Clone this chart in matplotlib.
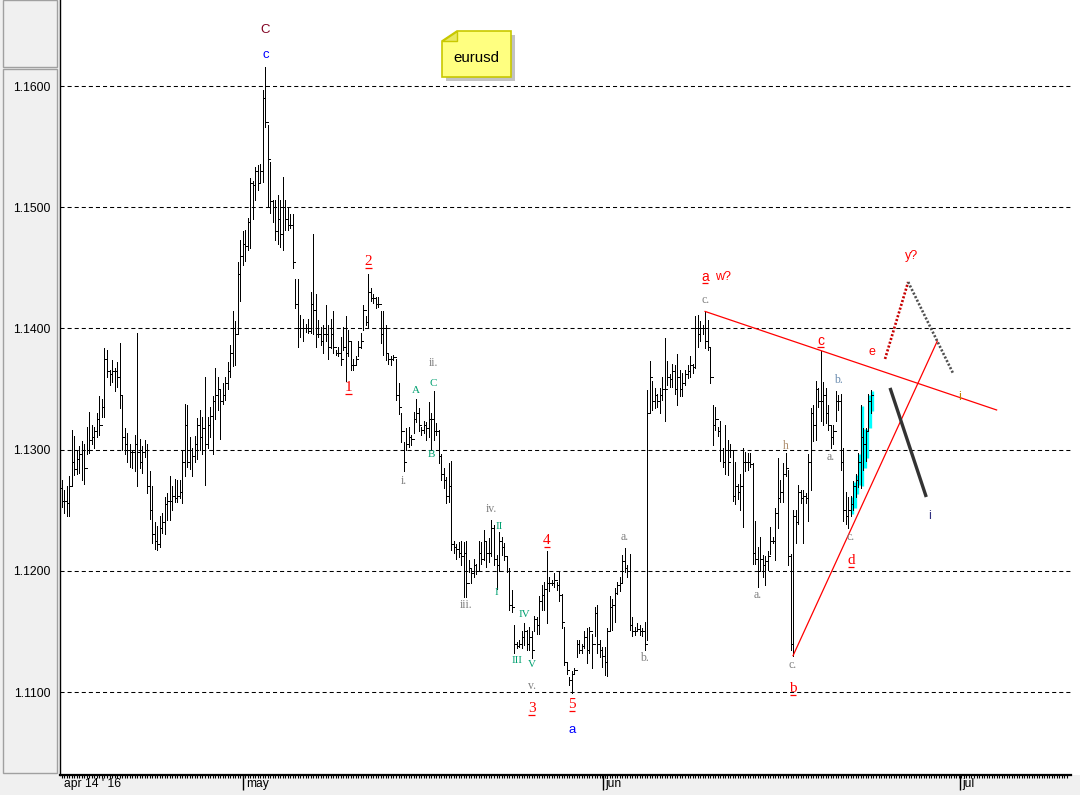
import matplotlib
matplotlib.use("Agg")
import matplotlib.pyplot as plt
import matplotlib.transforms as mtrans
from matplotlib.patches import Rectangle, Polygon
import numpy as np

BASE = 1.1000
PIP = 0.0001

# ---- 4h OHLC bars, EURUSD, values in pips above 1.1000 (open = previous close) ----
high_pips = [
    # apr 14 - apr 29
    275,267,270,278,316,311,300,303,307,305, 319,331,320,319,330,344,342,384,382,366,
    374,367,372,388,344,318,314,305,300,312, 396,309,303,308,305,282,270,240,237,245,
    248,261,264,278,270,276,275,275,300,338, 337,310,301,311,326,333,327,360,327,335,
    344,367,360,349,355,360,372,386,414,406,
    # peak
    455,473,480,481,491,524,522,533,535,536, 597,616,568,537,506,506,510,506,525,506, 500,
    # waves 1 / 2
    494,494,441,441,411,408,404,408,430,478, 428,407,401,403,419,403,408,414,382,385,
    393,401,410,399,390,375,377,390,396,419, 410,445,433,428,426,426,414,414,403,380,
    377,378,375,355,330,306,
    # wave 3
    318,319,312,331,342,334,319,324,323,339, 330,348,322,316,296,285,277,289,291,225,
    222,224,225,224,225,209,202,210,206,225, 224,234,224,227,242,238,213,
    # waves 3 end / 4 / 5 / jun start
    232,228,223,212,202,184,155,141,143,150, 157,151,154,150,163,162,179,188,191,216,
    195,192,198,191,199,181,154,124,112,117, 120,143,143,140,150,153,154,148,170,172,
    143,137,137,153,179,177,186,191,195,213, 219,205,214,162,154,157,155,153,158,349,
    # june
    373,357,351,346,351,360,392,373,362,371, 370,379,366,363,366,370,377,371,410,411,
    406,403,414,407,384,337,335,319,324,301, 320,308,305,300,290,272,280,301,298,297,
    297,289,241,220,228,213,212,216,236,228, 252,293,275,289,297,283,214,250,250,271,
    267,267,264,296,334,337,357,351,381,356, 351,337,320,320,348,345,346,301,265,261,
    262,274,280,297,337,318,318,346,349,
]
low_pips = [
    253,248,245,245,271,279,280,281,275,272, 296,297,305,301,310,312,327,327,360,353,
    356,348,352,334,300,296,290,286,285,282, 270,285,281,294,264,243,223,218,217,220,
    231,230,242,242,250,257,257,260,256,278, 286,284,278,290,292,300,296,271,301,310,
    296,325,333,309,338,341,350,360,369,370,
    396,423,452,456,465,466,490,506,514,521, 521,566,500,495,488,473,470,467,465,481, 481,
    483,450,417,385,393,390,397,396,396,395, 385,393,386,380,390,375,384,380,378,377,
    370,382,357,377,366,366,371,377,384,399, 403,401,423,421,417,418,388,378,374,371,
    370,374,341,329,306,282,
    300,302,304,314,323,315,312,314,308,310, 300,308,312,289,275,268,256,257,217,215,
    210,211,205,178,178,199,190,195,197,201, 206,209,203,207,212,205,185,
    200,213,209,199,168,166,132,136,137,136, 139,135,135,128,150,148,148,168,168,157,
    183,188,187,184,175,153,122,115,106,99, 115,129,132,132,136,124,132,120,146,132,
    129,121,114,113,151,151,158,181,183,190, 199,195,151,146,147,150,147,146,135,143,
    330,333,334,335,330,341,324,353,352,352, 346,337,344,344,353,359,360,363,367,385,
    390,395,384,382,355,304,316,311,291,286, 280,279,294,258,255,259,250,236,282,283,
    286,206,206,187,201,195,188,201,214,223, 209,235,257,257,278,205,135,130,223,239,
    256,223,256,241,267,307,308,335,324,320, 322,316,301,305,324,333,283,241,239,235,
    245,250,261,269,268,283,291,316,330,
]
close_pips = [
    258,258,256,270,290,284,292,296,300,285, 300,308,310,315,325,320,335,375,365,362,
    365,365,360,345,310,305,300,298,298,305, 298,290,298,300,270,250,230,225,222,235,
    240,255,258,258,262,260,262,265,290,320, 290,300,295,305,320,310,318,305,320,328,
    340,345,350,340,345,355,365,380,400,395,
    445,460,470,468,488,520,518,530,520,530, 590,570,540,505,500,480,490,478,500,490, 485,
    485,455,420,400,400,400,400,398,420,415, 395,395,390,395,395,385,395,385,380,380,
    375,385,380,390,370,370,375,385,390,415, 405,430,425,425,420,420,395,400,380,375,
    375,376,345,335,315,290,
    305,310,309,325,330,320,316,320,318,325, 325,315,315,295,280,275,262,270,222,220,
    218,215,212,215,190,202,198,205,200,215, 210,225,215,215,235,210,205,
    225,220,212,200,172,170,140,138,140,145, 150,140,145,135,160,155,175,180,185,190,
    190,190,192,188,180,158,125,118,110,115, 118,140,135,138,145,135,150,140,165,140,
    135,130,125,150,170,172,182,188,190,208, 202,200,155,150,150,152,150,150,140,330,
    360,340,345,340,345,350,350,360,358,365, 350,360,350,355,362,365,370,368,400,395,
    400,400,390,385,360,320,325,315,300,290, 300,290,300,262,270,265,270,290,290,290,
    288,215,210,200,210,205,208,212,225,225, 248,260,265,280,285,212,140,245,240,265,
    260,262,260,290,330,320,350,340,340,345, 330,320,310,315,340,340,290,250,245,250,
    255,270,275,290,310,305,315,340,345,
]
first_open_pips = 268
highlight_from = 314          # bars highlighted in cyan (last leg)

price_levels = [1.1100, 1.1200, 1.1300, 1.1400, 1.1500, 1.1600]
month_labels = ["apr 14 ' 16", "may", "jun", "jul"]
month_pos = [0, 72.3, 215.3, 357.6]

hi = BASE + np.array(high_pips) * PIP
lo = BASE + np.array(low_pips) * PIP
cl = BASE + np.array(close_pips) * PIP
op = np.concatenate([[BASE + first_open_pips * PIP], cl[:-1]])
n = len(hi)
idx = np.arange(n)
L = n - 1

W, H = 1080, 795
fig = plt.figure(figsize=(W / 100, H / 100), dpi=100)
fig.patch.set_facecolor('white')

def fx(px):
    return px / W

def fy(py):
    return 1 - py / H

# grey side panel and bottom strip
fig.add_artist(Rectangle((0, 0), fx(60), 1, transform=fig.transFigure,
                         facecolor='#f0f0f0', edgecolor='none', zorder=-2))
fig.add_artist(Rectangle((0, 0), 1, 20 / H, transform=fig.transFigure,
                         facecolor='#f0f0f0', edgecolor='none', zorder=-2))
fig.add_artist(Rectangle((fx(2.5), fy(67)), fx(54.5), 67 / H, transform=fig.transFigure,
                         facecolor='none', edgecolor='#a0a0a0', lw=1, zorder=-1))
fig.add_artist(Rectangle((fx(2.5), fy(773)), fx(54.5), (773 - 69) / H, transform=fig.transFigure,
                         facecolor='none', edgecolor='#a0a0a0', lw=1, zorder=-1))

ax = fig.add_axes([fx(60), 20 / H, fx(1011), 775 / H])
ax.set_facecolor('white')
ax.set_xlim(-0.7, L + 79.6)
ax.set_ylim(1.103152, 1.167096)

for s in ['top', 'right']:
    ax.spines[s].set_visible(False)
ax.spines['left'].set_linewidth(1.0)
ax.spines['bottom'].set_linewidth(1.6)

for lvl in price_levels:
    ax.axhline(lvl, color='black', lw=0.75, ls=(0, (3.9, 2.9)), zorder=0.5)

ax.set_yticks(price_levels)
ax.set_yticklabels([f"{v:.4f}" for v in price_levels], fontsize=8.7,
                   family='Liberation Sans')
ax.tick_params(axis='y', length=0, pad=7)

ax.set_xticks(month_pos[1:])
ax.set_xticklabels([])
ax.tick_params(axis='x', which='major', length=11, width=1.0, direction='out')
ax.set_xticks(np.arange(0, int(L + 79)), minor=True)
ax.tick_params(axis='x', which='minor', length=2.3, width=0.8, direction='out')

tb = mtrans.blended_transform_factory(ax.transData, ax.transAxes)
for lab, p in zip(month_labels, month_pos):
    ax.text(p + 0.9, -0.0115, lab, transform=tb, ha='left', va='center',
            fontsize=8.7, family='Liberation Sans', color='black')

# cyan highlight of last leg
hl = idx >= highlight_from
ax.vlines(idx[hl] + 0.45, lo[hl] + 0.0002, hi[hl] - 0.0001, colors='#00ffff', lw=2.4, zorder=1.5)

# OHLC bars
ax.vlines(idx, lo, hi, colors='black', lw=0.72, antialiased=False, zorder=2)
ax.hlines(op, idx - 0.8, idx, colors='black', lw=0.72, antialiased=False, zorder=2)
ax.hlines(cl, idx, idx + 0.8, colors='black', lw=0.72, antialiased=False, zorder=2)

# trend / projection lines
i_top = int(np.argmax(hi[240:280])) + 240
i_blow = int(np.argmin(lo[280:300])) + 280
ax.plot([i_top, L + 50], [hi[i_top], 1.13327], color='red', lw=0.9, zorder=3)
ax.plot([i_blow, L + 26.4], [lo[i_blow], 1.13896], color='red', lw=0.9, zorder=3)
ax.plot([L + 5.6, L + 14.8], [1.13748, 1.14383], color='#c80000', lw=1.9,
        ls=(0, (0.8, 0.7)), zorder=3)
ax.plot([L + 14.8, L + 32.8], [1.14383, 1.13624], color='#505050', lw=1.9,
        ls=(0, (0.8, 0.7)), zorder=3)
ax.plot([L + 7.6, L + 22], [1.13509, 1.12609], color='#333333', lw=2.4,
        solid_capstyle='butt', zorder=3)

GRAY = '#808080'
GREEN = '#00a070'
RED = '#ff0000'
SERIF = 'Liberation Serif'
SANS = 'Liberation Sans'

# (text, bar index, price, colour, family, size, underlined)
labels = [
    ("C", 81, 1.16460, '#800020', SANS, 9.5, False),
    ("c", 81, 1.16256, '#0000ff', SANS, 9.5, False),
    ("2", 122, 1.14548, RED, SERIF, 11, True),
    ("1", 114, 1.13509, RED, SERIF, 11, True),
    ("ii.", 148, 1.13715, GRAY, SERIF, 8.5, False),
    ("A", 141, 1.13484, GREEN, SERIF, 8, False),
    ("C", 148, 1.13542, GREEN, SERIF, 8, False),
    ("B", 147, 1.12956, GREEN, SERIF, 8, False),
    ("i.", 136, 1.12741, GRAY, SERIF, 8.5, False),
    ("iv.", 171, 1.12510, GRAY, SERIF, 8.5, False),
    ("II", 174, 1.12362, GREEN, SERIF, 8, False),
    ("I", 173, 1.11817, GREEN, SERIF, 8, False),
    ("iii.", 161, 1.11718, GRAY, SERIF, 8.5, False),
    ("4", 193, 1.12246, RED, SERIF, 11, True),
    ("IV", 184, 1.11636, GREEN, SERIF, 8, False),
    ("III", 181, 1.11264, GREEN, SERIF, 8, False),
    ("V", 187, 1.11231, GREEN, SERIF, 8, False),
    ("v.", 187, 1.11050, GRAY, SERIF, 8.5, False),
    ("3", 187, 1.10860, RED, SERIF, 11, True),
    ("5", 203, 1.10893, RED, SERIF, 11, True),
    ("a", 203, 1.10687, '#0000ff', SANS, 9.5, False),
    ("a.", 224, 1.12279, GRAY, SERIF, 8.5, False),
    ("b.", 232, 1.11281, GRAY, SERIF, 8.5, False),
    ("a", 256, 1.14424, RED, SANS, 10, True),
    ("w?", 263, 1.14424, RED, SANS, 9, False),
    ("c.", 256, 1.14235, GRAY, SERIF, 8.5, False),
    ("c", 302, 1.13896, RED, SANS, 10, True),
    ("b.", 309, 1.13574, '#6a8cb0', SERIF, 8.5, False),
    ("h", 288, 1.13030, '#b09070', SERIF, 8.5, False),
    ("a.", 306, 1.12940, GRAY, SERIF, 8.5, False),
    ("a.", 277, 1.11800, GRAY, SERIF, 8.5, False),
    ("c.", 314, 1.12279, GRAY, SERIF, 8.5, False),
    ("d", 314, 1.12081, RED, SERIF, 11, True),
    ("c.", 291, 1.11223, GRAY, SERIF, 8.5, False),
    ("b", 291, 1.11025, RED, SERIF, 11, True),
    ("e", L + 0.4, 1.13806, RED, SANS, 9, False),
    ("y?", L + 16, 1.14598, RED, SANS, 9, False),
    ("i", L + 35.2, 1.13434, '#c08000', SANS, 9, False),
    ("i", L + 23.2, 1.12453, '#303080', SANS, 9, False),
]
for t, x, y, c, fam, fs, ul in labels:
    ax.text(x, y, t, color=c, family=fam, fontsize=fs, ha='center', va='center', zorder=4)
    if ul:
        off = mtrans.offset_copy(ax.transData, fig=fig, x=0, y=-0.42 * fs, units='points')
        ax.plot([x - 1.3, x + 1.3], [y, y], transform=off, color=c, lw=0.9,
                solid_capstyle='butt', zorder=4)

# yellow note "eurusd"
x0, x1, y0, y1, fold = 442, 511, 31, 77, 15
shadow = Polygon([(fx(x0 + fold + 4), fy(y0 + 4)), (fx(x1 + 4), fy(y0 + 4)),
                  (fx(x1 + 4), fy(y1 + 4)), (fx(x0 + 4), fy(y1 + 4)),
                  (fx(x0 + 4), fy(y0 + 10 + 4))], closed=True,
                 transform=fig.transFigure, facecolor='#9a9a9a', edgecolor='none',
                 alpha=0.6, zorder=5)
note = Polygon([(fx(x0 + fold), fy(y0)), (fx(x1), fy(y0)), (fx(x1), fy(y1)),
                (fx(x0), fy(y1)), (fx(x0), fy(y0 + 10))], closed=True,
               transform=fig.transFigure, facecolor='#ffff80', edgecolor='#c8c800',
               lw=1.2, zorder=6)
foldp = Polygon([(fx(x0), fy(y0 + 10)), (fx(x0 + fold), fy(y0 + 10)), (fx(x0 + fold), fy(y0))],
                closed=True, transform=fig.transFigure, facecolor='#e8e860',
                edgecolor='#c8c800', lw=1.0, zorder=7)
for p in (shadow, note, foldp):
    fig.add_artist(p)
fig.text(fx(476), fy(58), "eurusd", ha='center', va='center', fontsize=10.8,
         family='Liberation Sans', color='black', zorder=8)

fig.savefig("out.png", dpi=100)
